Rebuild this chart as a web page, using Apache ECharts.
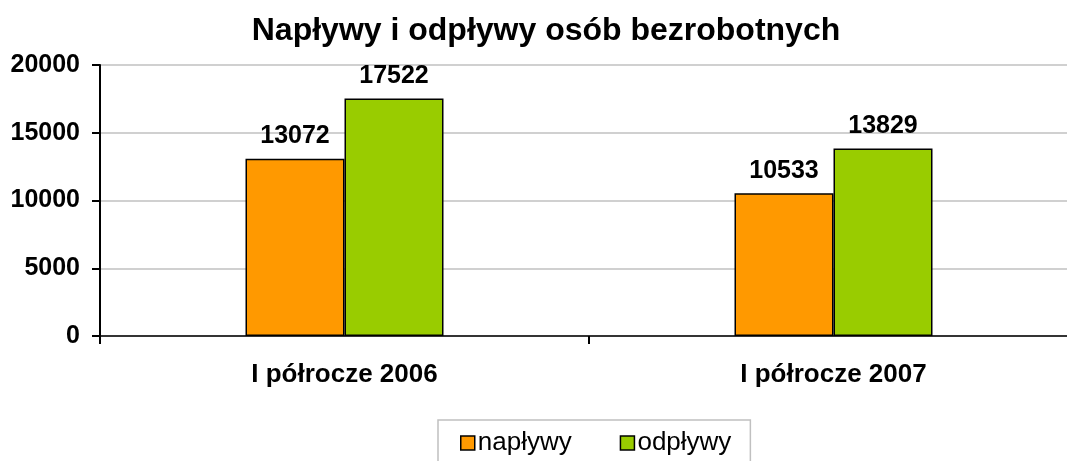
<!DOCTYPE html>
<html lang="pl">
<head>
  <meta charset="UTF-8">
  <title>Napływy i odpływy osób bezrobotnych</title>
  <style>
    html, body { margin: 0; padding: 0; background: #fff; }
    #chart { width: 1067px; height: 461px; }
  </style>
</head>
<body>
<div id="chart"></div>
<script src="https://cdn.jsdelivr.net/npm/echarts@6/dist/echarts.min.js"></script>
<script>
  // dane z wykresu
  const categories = ['I półrocze 2006', 'I półrocze 2007'];
  const seriesNames = ['napływy', 'odpływy'];
  const inflows = [13072, 10533];
  const outflows = [17522, 13829];
  const colors = ['#FF9900', '#99CC00'];

  const font = '"Liberation Sans", Arial, sans-serif';

  const chart = echarts.init(document.getElementById('chart'));

  function barSeries(name, data, color) {
    return {
      name: name,
      type: 'bar',
      data: data,
      barWidth: 99,
      barGap: '0%',
      itemStyle: { color: color, borderColor: '#000', borderWidth: 1.5 },
      label: {
        show: true,
        position: 'top',
        distance: 10,
        color: '#000',
        fontFamily: font,
        fontWeight: 'bold',
        fontSize: 25
      }
    };
  }

  const option = {
    animation: false,
    backgroundColor: '#fff',
    title: {
      text: 'Napływy i odpływy osób bezrobotnych',
      left: 541,
      top: 10,
      textAlign: 'center',
      textStyle: { fontFamily: font, fontWeight: 'bold', fontSize: 32, color: '#000' }
    },
    legend: {
      data: seriesNames,
      left: 438,
      top: 420,
      icon: 'rect',
      itemWidth: 14,
      itemHeight: 14,
      itemGap: 48,
      padding: [10, 19, 12, 22],
      borderColor: '#c0c0c0',
      borderWidth: 1.5,
      borderRadius: 0,
      itemStyle: { borderColor: '#000', borderWidth: 1.5 },
      textStyle: { fontFamily: font, fontSize: 26, color: '#000', padding: [0, 0, 0, -2] }
    },
    grid: {
      left: 100,
      width: 978,
      top: 65,
      bottom: 125,
      containLabel: false,
      outerBoundsMode: 'none'
    },
    xAxis: {
      type: 'category',
      data: categories,
      axisLine: { lineStyle: { color: '#000', width: 1.5 } },
      axisTick: { show: true, length: 8, lineStyle: { color: '#000', width: 2 } },
      axisLabel: { margin: 26, color: '#000', fontFamily: font, fontWeight: 'bold', fontSize: 26 }
    },
    yAxis: {
      type: 'value',
      min: 0,
      max: 20000,
      interval: 5000,
      axisLine: { show: true, lineStyle: { color: '#000', width: 2 } },
      axisTick: { show: true, length: 8, lineStyle: { color: '#000', width: 2 } },
      axisLabel: {
        margin: 20,
        color: '#000',
        fontFamily: font,
        fontWeight: 'bold',
        fontSize: 25,
        formatter: function (v) { return String(v); }
      },
      splitLine: { lineStyle: { color: '#c0c0c0', width: 1.5 } }
    },
    series: [
      barSeries(seriesNames[0], inflows, colors[0]),
      barSeries(seriesNames[1], outflows, colors[1])
    ]
  };

  chart.setOption(option);
</script>
</body>
</html>
